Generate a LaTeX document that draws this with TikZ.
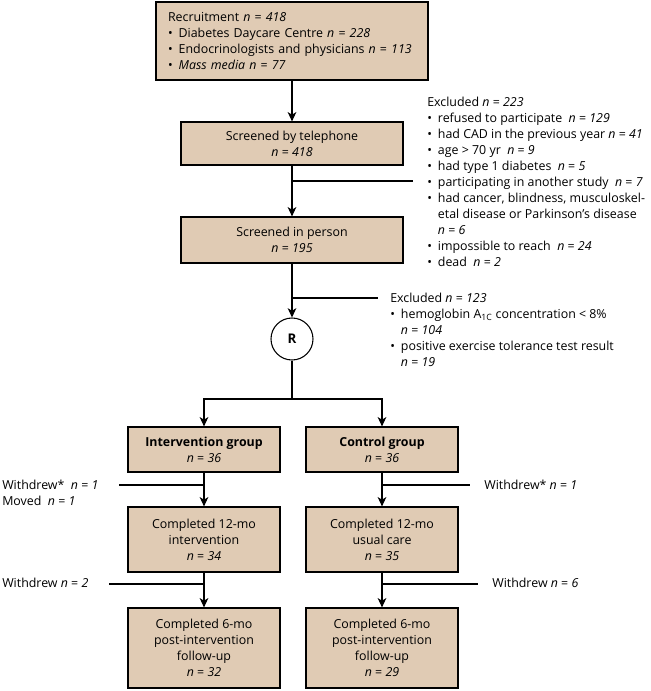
\documentclass[tikz,border=0pt]{standalone}
\usepackage{fontspec}
\setmainfont{Open Sans}
\usetikzlibrary{arrows.meta}
\definecolor{boxfill}{RGB}{224,203,180}
\newcommand\nv[1]{\textit{n} = \textit{#1}}
\newcommand\bul{\makebox[8pt][l]{•}}
\newcommand\ind{\hspace*{8pt}}
\begin{document}
\begin{tikzpicture}[x=0.75pt,y=-0.75pt,
  font=\fontsize{9.3}{12}\selectfont,
  box/.style={draw, line width=0.9pt, fill=boxfill, align=center, inner sep=0pt},
  arr/.style={-{Stealth[length=7pt,width=6.5pt,inset=2pt]}, line width=0.8pt},
  ln/.style={line width=0.8pt},
  lbl/.style={inner sep=0pt, align=left}]
\useasboundingbox (0,0) rectangle (650,691);

% boxes
\node[box, minimum width=204pt, minimum height=58.5pt, text width=186pt, align=left] (rec) at (292,41)
 {Recruitment \nv{418}\\
  \bul Diabetes Daycare Centre \nv{228}\\
  \bul Endocrinologists and physicians \nv{113}\\
  \bul \textit{Mass media} \nv{77}};
\node[box, minimum width=166.5pt, minimum height=32.25pt] (tel) at (292,143.5)
 {Screened by telephone\\ \nv{418}};
\node[box, minimum width=166.5pt, minimum height=34.5pt] (per) at (292,240)
 {Screened in person\\ \nv{195}};
\node[draw, circle, line width=0.8pt, fill=white, minimum size=31.5pt, inner sep=0pt, font=\fontsize{10}{12}\selectfont\bfseries] (R) at (292,339) {R};
\node[box, minimum width=114pt, minimum height=33.75pt] (int) at (204,449.5)
 {\textbf{Intervention group}\\ \nv{36}};
\node[box, minimum width=114pt, minimum height=33.75pt] (ctl) at (382,449.5)
 {\textbf{Control group}\\ \nv{36}};
\node[box, minimum width=114pt, minimum height=48.75pt] (c12i) at (204,539.5)
 {Completed 12-mo\\ intervention\\ \nv{34}};
\node[box, minimum width=114pt, minimum height=48.75pt] (c12c) at (382,539.5)
 {Completed 12-mo\\ usual care\\ \nv{35}};
\node[box, minimum width=114pt, minimum height=60pt] (c6i) at (204,648)
 {Completed 6-mo\\ post-intervention\\ follow-up\\ \nv{32}};
\node[box, minimum width=114pt, minimum height=60pt] (c6c) at (382,648)
 {Completed 6-mo\\ post-intervention\\ follow-up\\ \nv{29}};

% exclusion texts
\node[lbl, anchor=north west] (ex1) at (427,96.5)
 {Excluded \nv{223}\\
  \bul refused to participate\ \ \nv{129}\\
  \bul had CAD in the previous year \nv{41}\\
  \bul age > 70 yr\ \ \nv{9}\\
  \bul had type 1 diabetes\ \ \nv{5}\\
  \bul participating in another study\ \ \nv{7}\\
  \bul had cancer, blindness, musculoskel-\\
  \ind etal disease or Parkinson’s disease\\
  \ind \nv{6}\\
  \bul impossible to reach\ \ \nv{24}\\
  \bul dead\ \ \nv{2}};
\node[lbl, anchor=north west] (ex2) at (390,292.5)
 {Excluded \nv{123}\\
  \bul hemoglobin A\textsubscript{1C} concentration < 8\%\\
  \ind \nv{104}\\
  \bul positive exercise tolerance test result\\
  \ind \nv{19}};

% withdrawal labels
\node[lbl, anchor=north west] (wl1) at (2,479.5)
 {Withdrew*\ \ \nv{1}\\ Moved\ \ \nv{1}};
\node[lbl, anchor=west] (wr1) at (484,485) {Withdrew* \nv{1}};
\node[lbl, anchor=west] (wl2) at (2,583) {Withdrew \nv{2}};
\node[lbl, anchor=west] (wr2) at (492,583) {Withdrew \nv{6}};

% connectors
\draw[arr] (rec) -- (tel);
\draw[arr] (tel) -- (per);
\coordinate (b1) at (292,181);
\coordinate (b1e) at (413,181);
\draw[ln] (b1) -- (b1e);
\draw[arr] (per) -- (R);
\coordinate (b2) at (292,298);
\coordinate (b2e) at (378,298);
\draw[ln] (b2) -- (b2e);
\coordinate (split) at (292,399);
\draw[ln] (R) -- (split);
\draw[arr] (split) -| (int);
\draw[arr] (split) -| (ctl);
\draw[arr] (int) -- (c12i);
\draw[arr] (ctl) -- (c12c);
\draw[arr] (c12i) -- (c6i);
\draw[arr] (c12c) -- (c6c);
\coordinate (w1) at (204,485);
\coordinate (w1e) at (119,485);
\draw[ln] (w1e) -- (w1);
\coordinate (w2) at (382,485);
\coordinate (w2e) at (470,485);
\draw[ln] (w2) -- (w2e);
\coordinate (w3) at (204,584);
\coordinate (w3e) at (109,584);
\draw[ln] (w3e) -- (w3);
\coordinate (w4) at (382,584);
\coordinate (w4e) at (478,584);
\draw[ln] (w4) -- (w4e);
\end{tikzpicture}
\end{document}
